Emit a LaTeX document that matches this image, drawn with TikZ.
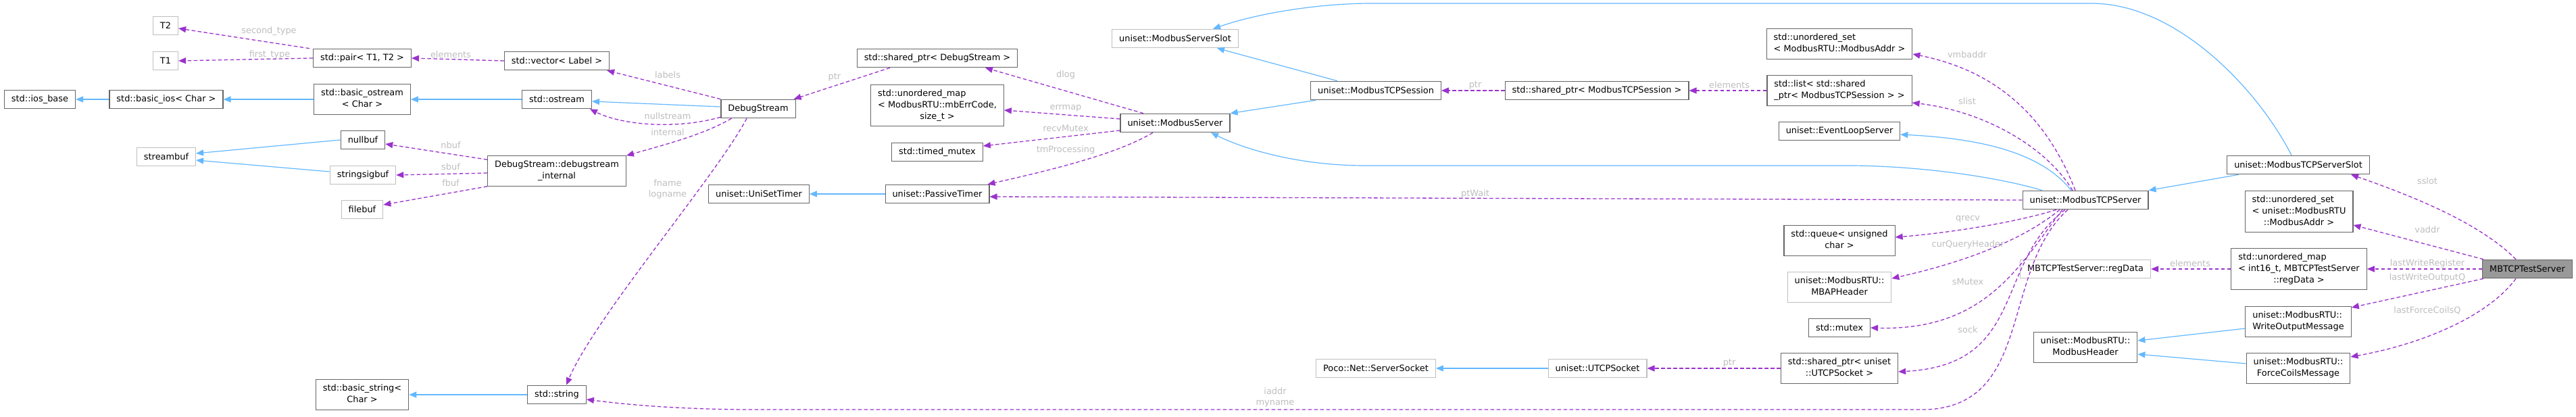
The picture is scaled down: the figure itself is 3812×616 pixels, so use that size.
\documentclass[tikz,border=0pt]{standalone}
\usepackage{fontspec}
\setmainfont{DejaVu Sans}
\usetikzlibrary{arrows.meta}
\definecolor{dk}{HTML}{666666}
\definecolor{lt}{HTML}{BFBFBF}
\definecolor{inhc}{HTML}{63B8FF}
\definecolor{usec}{HTML}{9A32CD}
\definecolor{lblc}{HTML}{BEBEBE}
\definecolor{mainfill}{HTML}{999999}
\newcommand{\mlb}[2]{\begin{tabular}{@{}l@{}}#1\\\multicolumn{1}{@{}c@{}}{#2}\end{tabular}}
\tikzset{
 cls/.style={draw=dk, line width=1.1pt, fill=white, inner xsep=10.5pt, inner ysep=0pt, minimum height=27.5pt, font=\fontsize{12.9}{16.8}\selectfont},
 ucls/.style={cls, draw=lt},
 two/.style={minimum height=44.5pt},
 three/.style={minimum height=61.5pt},
 mainc/.style={cls, fill=mainfill},
 inh/.style={draw=inhc, line width=1.2pt, -{Triangle[length=11pt,width=9pt]}},
 use/.style={draw=usec, line width=1.3pt, dash pattern=on 5.5pt off 3.5pt, -{Triangle[length=11pt,width=9pt]}},
 lbl/.style={text=lblc, font=\fontsize{12.9}{16.8}\selectfont, inner sep=0pt, align=center},
}
\begin{document}
\begin{tikzpicture}[x=1pt,y=-1pt]
\fill[white] (0,0) rectangle (3812,616);
\useasboundingbox (0,0) rectangle (3812,616);
% nodes
\node[ucls] (T2) at (245,38) {T2};
\node[ucls] (T1) at (245,90) {T1};
\node[cls] (pair) at (536,86) {std::pair< T1, T2 >};
\node[cls] (vec) at (824,90) {std::vector< Label >};
\node[cls] (iosb) at (59,147) {std::ios\_base};
\node[cls] (bios) at (246,147) {std::basic\_ios< Char >};
\node[cls,two] (bost) at (536,147) {\mlb{std::basic\_ostream}{< Char >}};
\node[cls] (ost) at (824,147) {std::ostream};
\node[cls] (nullbuf) at (537,207) {nullbuf};
\node[ucls] (sbuf) at (246,232) {streambuf};
\node[ucls] (ssig) at (537,259) {stringsigbuf};
\node[cls,two] (dsi) at (824,253) {\mlb{DebugStream::debugstream}{\_internal}};
\node[ucls] (fbuf) at (536,310) {filebuf};
\node[cls,two] (bstr) at (536,584) {\mlb{std::basic\_string<}{Char >}};
\node[cls] (str) at (824,584) {std::string};
\node[cls] (ds) at (1122,161) {DebugStream};
\node[cls] (spds) at (1387,86) {std::shared\_ptr< DebugStream >};
\node[cls,three] (umerr) at (1387,156) {\mlb{std::unordered\_map\\< ModbusRTU::mbErrCode,}{size\_t >}};
\node[cls] (tmx) at (1387,225) {std::timed\_mutex};
\node[cls] (ust) at (1123,287) {uniset::UniSetTimer};
\node[cls] (pt) at (1387,287) {uniset::PassiveTimer};
\node[ucls] (mss) at (1739,57) {uniset::ModbusServerSlot};
\node[cls] (ms) at (1739,182) {uniset::ModbusServer};
\node[cls] (sess) at (2036,134) {uniset::ModbusTCPSession};
\node[cls] (spsess) at (2363,134) {std::shared\_ptr< ModbusTCPSession >};
\node[cls,two] (uset) at (2722,65) {\mlb{std::unordered\_set}{< ModbusRTU::ModbusAddr >}};
\node[cls,two] (slist) at (2722,134) {\mlb{std::list< std::shared}{\_ptr< ModbusTCPSession > >}};
\node[cls] (elp) at (2722,194) {uniset::EventLoopServer};
\node[cls,two] (queue) at (2722,356) {\mlb{std::queue< unsigned}{char >}};
\node[ucls,two] (mbap) at (2722,425) {\mlb{uniset::ModbusRTU::}{MBAPHeader}};
\node[cls] (mtx) at (2722,485) {std::mutex};
\node[cls,two] (spsock) at (2722,545) {\mlb{std::shared\_ptr< uniset}{::UTCPSocket >}};
\node[ucls] (utcp) at (2364,545) {uniset::UTCPSocket};
\node[ucls] (poco) at (2036,545) {Poco::Net::ServerSocket};
\node[cls] (tcps) at (3086,296) {uniset::ModbusTCPServer};
\node[cls] (tcpslot) at (3401,244) {uniset::ModbusTCPServerSlot};
\node[cls,three] (uset2) at (3402,313) {\mlb{std::unordered\_set\\< uniset::ModbusRTU}{::ModbusAddr >}};
\node[cls,three] (umreg) at (3402,398) {\mlb{std::unordered\_map\\< int16\_t, MBTCPTestServer}{::regData >}};
\node[ucls] (regd) at (3086,398) {MBTCPTestServer::regData};
\node[mainc] (main) at (3740,398) {MBTCPTestServer};
\node[cls,two] (wom) at (3401,476) {\mlb{uniset::ModbusRTU::}{WriteOutputMessage}};
\node[cls,two] (fcm) at (3401,545) {\mlb{uniset::ModbusRTU::}{ForceCoilsMessage}};
\node[cls,two] (mbh) at (3086,514) {\mlb{uniset::ModbusRTU::}{ModbusHeader}};
% inheritance edges
\draw[inh] (bios.west) -- (iosb.east);
\draw[inh] (bost.west) -- (bios.east);
\draw[inh] (ost.west) -- (bost.east);
\draw[inh] ([yshift=3pt]ds.west) -- ([yshift=-3pt]ost.east);
\draw[inh] (nullbuf.west) -- ([yshift=5pt]sbuf.east);
\draw[inh] ([yshift=5pt]ssig.west) -- ([yshift=-5pt]sbuf.east);
\draw[inh] (str.west) -- (bstr.east);
\draw[inh] (pt.west) -- (ust.east);
\draw[inh] ([xshift=-57pt]sess.north) -- ([xshift=62pt]mss.south);
\draw[inh] ([xshift=-89pt]sess.south) -- (ms.north east);
\draw[inh] ([xshift=-10pt]tcpslot.north) .. controls (3340,130) and (3220,5) .. (3095,5) -- (2030,5) .. controls (1950,5) and (1860,20) .. ([xshift=56pt]mss.north);
\draw[inh] ([xshift=-64pt]tcps.north) .. controls (2950,260) and (2830,245) .. (2735,245) -- (2020,245) .. controls (1920,245) and (1840,220) .. ([xshift=53pt]ms.south);
\draw[inh] ([xshift=-21pt]tcps.north) .. controls (3020,225) and (2930,205) .. ([yshift=-5pt]elp.east);
\draw[inh] ([xshift=-88pt]tcpslot.south) -- (tcps.north east);
\draw[inh] (utcp.west) -- (poco.east);
\draw[inh] ([yshift=-10pt]wom.west) -- ([yshift=10pt]mbh.east);
\draw[inh] ([yshift=7pt]fcm.west) -- ([yshift=-10pt]mbh.east);
% usage edges
\draw[use] ([xshift=-5pt]pair.north west) -- ([yshift=-4pt]T2.east);
\draw[use] (pair.west) -- (T1.east);
\draw[use] (vec.west) -- (pair.east);
\draw[use] (ds.north west) -- ([xshift=-4pt]vec.south east);
\draw[use] ([yshift=2pt]ds.south west) .. controls (1000,192) and (920,185) .. ([xshift=-3pt]ost.south east);
\draw[use] ([xshift=16pt]ds.south west) .. controls (1040,200) and (980,215) .. (dsi.north east);
\draw[use] ([xshift=-17pt]ds.south) .. controls (1060,260) and (880,470) .. ([xshift=14pt]str.north);
\draw[use] ([yshift=-6pt]dsi.north west) -- ([yshift=-6pt]nullbuf.east);
\draw[use] ([yshift=-3pt]dsi.west) -- (ssig.east);
\draw[use] (dsi.south west) -- ([yshift=7pt]fbuf.east);
\draw[use] ([xshift=-70pt]spds.south) -- ([xshift=-3pt]ds.north east);
\draw[use] ([xshift=-47pt]ms.north) -- ([xshift=71pt]spds.south);
\draw[use] ([yshift=6pt]ms.west) -- ([yshift=-7pt]umerr.east);
\draw[use] ([yshift=-11pt]ms.west) -- ([yshift=9pt]tmx.east);
\draw[use] ([xshift=-33pt]ms.south) .. controls (1650,230) and (1540,255) .. ([xshift=-3pt]pt.north east);
\draw[use] (tcps.west) -- ([yshift=-4pt]pt.east);
\draw[use] ([xshift=-26pt]tcps.south) .. controls (2960,400) and (3010,600) .. (2850,606) -- (1100,606) .. controls (1000,605) and (930,599) .. ([yshift=-7pt]str.east);
\draw[use] (spsess.west) -- (sess.east);
\draw[use] (slist.west) -- (spsess.east);
\draw[use] ([xshift=-15pt]tcps.north) .. controls (3020,150) and (2930,100) .. ([yshift=-15pt]uset.east);
\draw[use] ([xshift=-19pt]tcps.north) .. controls (3030,220) and (2940,165) .. ([yshift=-18pt]slist.east);
\draw[use] ([xshift=-43pt]tcps.south) .. controls (2980,330) and (2880,345) .. ([yshift=5pt]queue.east);
\draw[use] ([xshift=-38pt]tcps.south) .. controls (3000,350) and (2920,385) .. ([yshift=13pt]mbap.east);
\draw[use] ([xshift=-34pt]tcps.south) .. controls (2990,390) and (2940,490) .. (mtx.east);
\draw[use] ([xshift=-30pt]tcps.south) .. controls (2950,390) and (3000,540) .. ([yshift=-5pt]spsock.east);
\draw[use] (spsock.west) -- (utcp.east);
\draw[use] ([xshift=-17pt]main.north) .. controls (3670,330) and (3570,290) .. ([xshift=78pt]tcpslot.south);
\draw[use] ([xshift=-65pt]main.north) -- ([yshift=-20pt]uset2.east);
\draw[use] (main.west) -- (umreg.east);
\draw[use] (umreg.west) -- (regd.east);
\draw[use] ([xshift=-65pt]main.south) -- ([yshift=21pt]wom.east);
\draw[use] ([xshift=-17pt]main.south) .. controls (3680,470) and (3580,510) .. ([yshift=17pt]fcm.east);
% labels
\node[lbl] (l1) at (398,46) {second\_type};
\node[lbl] (l2) at (399,81) {first\_type};
\node[lbl] (l3) at (667,81) {elements};
\node[lbl] (l4) at (988,111) {labels};
\node[lbl] (l5) at (988,172) {nullstream};
\node[lbl] (l6) at (988,196) {internal};
\node[lbl] (l7) at (667,215) {nbuf};
\node[lbl] (l8) at (667,247) {sbuf};
\node[lbl] (l9) at (667,271) {fbuf};
\node[lbl] (l10) at (988,280) {fname\\logname};
\node[lbl] (l11) at (1235,114) {ptr};
\node[lbl] (l12) at (1577,111) {dlog};
\node[lbl] (l13) at (1577,160) {errmap};
\node[lbl] (l14) at (1577,190) {recvMutex};
\node[lbl] (l15) at (1577,222) {tmProcessing};
\node[lbl] (l16) at (2183,287) {ptWait};
\node[lbl] (l17) at (1887,588) {iaddr\\myname};
\node[lbl] (l18) at (2183,126) {ptr};
\node[lbl] (l19) at (2559,126) {elements};
\node[lbl] (l20) at (2911,81) {vmbaddr};
\node[lbl] (l21) at (2911,150) {slist};
\node[lbl] (l22) at (2912,324) {qrecv};
\node[lbl] (l23) at (2912,362) {curQueryHeader};
\node[lbl] (l24) at (2912,417) {sMutex};
\node[lbl] (l25) at (2912,488) {sock};
\node[lbl] (l26) at (2559,537) {ptr};
\node[lbl] (l27) at (3592,268) {sslot};
\node[lbl] (l28) at (3592,340) {vaddr};
\node[lbl] (l29) at (3592,390) {lastWriteRegister};
\node[lbl] (l30) at (3592,411) {lastWriteOutputQ};
\node[lbl] (l31) at (3592,459) {lastForceCoilsQ};
\node[lbl] (l32) at (3241,390) {elements};
\end{tikzpicture}
\end{document}
